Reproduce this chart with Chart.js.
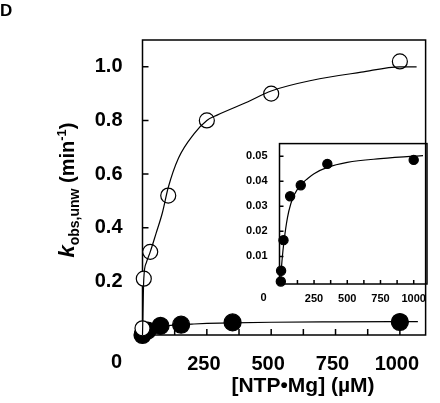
<!DOCTYPE html>
<html>
<head>
<meta charset="utf-8">
<script src="https://cdn.jsdelivr.net/npm/chart.js@4.4.1/dist/chart.umd.min.js"></script>
<style>
    html, body { margin: 0; padding: 0; background: #fff; }
    #wrap { position: relative; width: 440px; height: 403px; }
    #main { position: absolute; left: 0; top: 0; }
    #inset { position: absolute; left: 225px; top: 125px; }
</style>
</head>
<body>
<div id="wrap">
    <canvas id="main" width="440" height="403"></canvas>
    <canvas id="inset" width="210" height="190"></canvas>
</div>
<script>
// open circles (main panel)
const openX = [0, 5, 30, 100, 250, 500, 1000];
const openY = [0.025, 0.21, 0.31, 0.52, 0.80, 0.90, 1.02];
const openFitX = [0, 5, 15, 30, 53, 77, 100, 140, 200, 250, 290, 410, 500, 660, 850, 1000, 1065];
const openFitY = [0, 0.21, 0.27, 0.31, 0.38, 0.455, 0.55, 0.66, 0.75, 0.80, 0.82, 0.87, 0.91, 0.95, 0.98, 1.0, 1.0];

// filled circles (main panel and inset)
const fillX = [0, 2, 20, 70, 150, 350, 1000];
const fillY = [0, 0.0043, 0.0165, 0.034, 0.0384, 0.0469, 0.0485];
const fillFitX = [0, 3, 10, 25, 50, 75, 100, 150, 200, 250, 350, 500, 750, 1000, 1070];
const fillFitY = [0, 0.004, 0.009, 0.0165, 0.0255, 0.031, 0.0345, 0.0385, 0.041, 0.043, 0.0455, 0.0475, 0.049, 0.050, 0.0502];

// ticks
const mainXTicks = [125, 250, 375, 500, 625, 750, 875, 1000];
const mainXLabels = [250, 500, 750, 1000];
const mainYTicks = [0.2, 0.4, 0.6, 0.8, 1.0];
const insetXTicks = [125, 250, 375, 500, 625, 750, 875, 1000];
const insetXLabels = [250, 500, 750, 1000];
const insetYTicks = [0.01, 0.02, 0.03, 0.04, 0.05];

const FONT = '"Liberation Sans", Arial, Helvetica, sans-serif';

function pts(xs, ys) {
    return xs.map((x, i) => ({ x: x, y: ys[i] }));
}

// frame box + inward tick marks, drawn under the data
const framePlugin = {
    id: 'frame',
    beforeDatasetsDraw(chart, args, opts) {
        const { ctx, chartArea: a, scales } = chart;
        ctx.save();
        ctx.strokeStyle = '#000';
        ctx.lineWidth = opts.lineWidth;
        ctx.strokeRect(a.left, a.top, a.right - a.left, a.bottom - a.top);
        ctx.beginPath();
        scales.x.ticks.forEach(t => {
            const px = scales.x.getPixelForValue(t.value);
            ctx.moveTo(px, a.bottom);
            ctx.lineTo(px, a.bottom - opts.tickLen);
        });
        scales.y.ticks.forEach(t => {
            const py = scales.y.getPixelForValue(t.value);
            ctx.moveTo(a.left, py);
            ctx.lineTo(a.left + opts.tickLen, py);
        });
        ctx.stroke();
        // shared origin label
        ctx.fillStyle = '#000';
        ctx.font = opts.zeroFont;
        ctx.textAlign = 'center';
        ctx.textBaseline = 'middle';
        ctx.fillText('0', a.left + opts.zeroDx, a.bottom + opts.zeroDy);
        ctx.restore();
    }
};

// axis titles and panel letter on the main chart
const titlePlugin = {
    id: 'titles',
    afterDraw(chart) {
        const ctx = chart.ctx;
        ctx.save();
        ctx.fillStyle = '#000';
        ctx.textBaseline = 'alphabetic';

        ctx.font = 'bold 17px ' + FONT;
        ctx.textAlign = 'left';
        ctx.fillText('D', 0, 16);

        ctx.font = 'bold 21px ' + FONT;
        ctx.textAlign = 'center';
        ctx.fillText('[NTP\u2022Mg] (\u00b5M)', 303, 392);

        // k_obs,unw (min^-1), rotated
        const parts = [
            { t: 'k', f: 'italic bold 22px ' + FONT, dy: 0 },
            { t: 'obs,unw', f: 'bold 14px ' + FONT, dy: 5 },
            { t: ' (min', f: 'bold 20px ' + FONT, dy: 0 },
            { t: '-1', f: 'bold 13px ' + FONT, dy: -8 },
            { t: ')', f: 'bold 20px ' + FONT, dy: 0 }
        ];
        let total = 0;
        parts.forEach(p => { ctx.font = p.f; p.w = ctx.measureText(p.t).width; total += p.w; });
        ctx.translate(74, 190);
        ctx.rotate(-Math.PI / 2);
        ctx.textAlign = 'left';
        let x = -total / 2;
        parts.forEach(p => {
            ctx.font = p.f;
            ctx.fillText(p.t, x, p.dy);
            x += p.w;
        });
        ctx.restore();
    }
};

function lineSet(xs, ys) {
    return {
        data: pts(xs, ys),
        showLine: true,
        borderColor: '#000',
        borderWidth: 1.2,
        pointRadius: 0,
        cubicInterpolationMode: 'monotone',
        clip: false
    };
}

function pointSet(xs, ys, r, fill) {
    return {
        data: pts(xs, ys),
        showLine: false,
        pointRadius: r,
        pointBackgroundColor: fill,
        pointBorderColor: '#000',
        pointBorderWidth: 1.2,
        clip: false
    };
}

function axes(cfg) {
    return {
        x: {
            type: 'linear',
            min: cfg.xMin, max: cfg.xMax,
            afterFit: s => { s.height = cfg.xHeight; },
            afterBuildTicks: s => { s.ticks = cfg.xTicks.map(v => ({ value: v })); },
            grid: { display: false, drawTicks: false },
            border: { display: false },
            ticks: {
                color: '#000',
                padding: cfg.xPad,
                labelOffset: cfg.xLabelOffset,
                maxRotation: 0,
                autoSkip: false,
                font: { family: FONT, size: cfg.fontSize, weight: 'bold' },
                callback: v => cfg.xLabels.includes(v) ? String(v) : ''
            }
        },
        y: {
            type: 'linear',
            min: cfg.yMin, max: cfg.yMax,
            afterFit: s => { s.width = cfg.yWidth; },
            afterBuildTicks: s => { s.ticks = cfg.yTicks.map(v => ({ value: v })); },
            grid: { display: false, drawTicks: false },
            border: { display: false },
            ticks: {
                color: '#000',
                padding: cfg.yPad,
                autoSkip: false,
                font: { family: FONT, size: cfg.fontSize, weight: 'bold' },
                callback: v => v.toFixed(cfg.yDigits)
            }
        }
    };
}

new Chart(document.getElementById('main'), {
    type: 'scatter',
    data: {
        datasets: [
            lineSet(openFitX, openFitY),
            pointSet(openX, openY, 7.5, '#fff'),
            lineSet(fillFitX, fillFitY),
            pointSet(fillX, fillY, 8.5, '#000')
        ]
    },
    options: {
        responsive: false,
        animation: false,
        events: [],
        layout: { padding: { top: 40, right: 2.5, left: 0, bottom: 0 } },
        plugins: {
            legend: { display: false },
            tooltip: { enabled: false },
            frame: { lineWidth: 1.5, tickLen: 6, zeroDx: -26, zeroDy: 27, zeroFont: 'bold 20px ' + FONT }
        },
        scales: axes({
            xMin: 0, xMax: 1100, xHeight: 68, xTicks: mainXTicks, xLabels: mainXLabels, xPad: 17, xLabelOffset: -3,
            yMin: 0, yMax: 1.1, yWidth: 142.5, yTicks: mainYTicks, yPad: 20, yDigits: 1,
            fontSize: 20
        })
    },
    plugins: [framePlugin, titlePlugin]
});

new Chart(document.getElementById('inset'), {
    type: 'scatter',
    data: {
        datasets: [
            lineSet(fillFitX, fillFitY),
            pointSet(fillX, fillY, 4.6, '#000')
        ]
    },
    options: {
        responsive: false,
        animation: false,
        events: [],
        layout: { padding: { top: 12, right: 8, left: 0, bottom: 0 } },
        plugins: {
            legend: { display: false },
            tooltip: { enabled: false },
            frame: { lineWidth: 1.5, tickLen: 4, zeroDx: -16, zeroDy: 14, zeroFont: 'bold 11px ' + FONT }
        },
        scales: axes({
            xMin: -10, xMax: 1100, xHeight: 31, xTicks: insetXTicks, xLabels: insetXLabels, xPad: 8, xLabelOffset: 0,
            yMin: -0.001, yMax: 0.055, yWidth: 54.5, yTicks: insetYTicks, yPad: 12, yDigits: 2,
            fontSize: 11
        })
    },
    plugins: [framePlugin]
});
</script>
</body>
</html>
